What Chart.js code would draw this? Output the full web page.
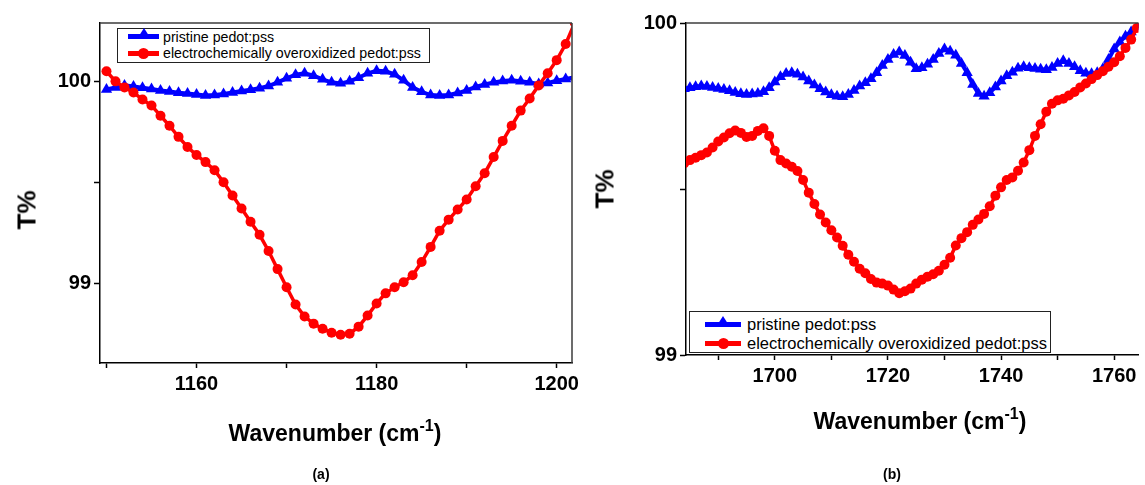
<!DOCTYPE html>
<html>
<head>
  <meta charset="UTF-8">
  <title>FTIR - pedot:pss</title>
  <script src="https://cdn.jsdelivr.net/npm/chart.js"></script>
  <style>
    body { margin: 0; width: 1145px; height: 485px; overflow: hidden; position: relative; background: #fff;
           font-family: "Liberation Sans", Arial, sans-serif; color: #000; }
    .panel { position: absolute; top: 0; height: 485px; }
    .ytitle { position: absolute; font-weight: bold; font-size: 26px; white-space: nowrap;
              transform: translate(-50%, -50%) rotate(-90deg); }
    .xtitle { position: absolute; font-weight: bold; font-size: 23px; white-space: nowrap;
              transform: translate(-50%, -50%); }
    .xtitle sup { font-size: 16px; vertical-align: 10px; line-height: 0; }
    .caption { position: absolute; font-weight: bold; font-size: 14px; transform: translate(-50%, -50%); }
    .legend { position: absolute; border: 1.5px solid #222; background: #fff; box-sizing: border-box; }
    .legend .txt { position: absolute; white-space: nowrap; transform: translateY(-50%); }
    .legend .ln { position: absolute; height: 5px; }
    .legend .tri { position: absolute; width: 0; height: 0; border-left: 7px solid transparent;
                   border-right: 7px solid transparent; border-bottom: 11px solid #0000ff; }
    .legend .dot { position: absolute; width: 11px; height: 11px; border-radius: 50%; background: #ff0000; }
  </style>
  <script>
    // panel (a): 1150 - 1200 cm-1
    var wavenumbersA = [1150, 1151, 1152, 1153, 1154, 1155, 1156, 1157, 1158, 1159,
                        1160, 1161, 1162, 1163, 1164, 1165, 1166, 1167, 1168, 1169,
                        1170, 1171, 1172, 1173, 1174, 1175, 1176, 1177, 1178, 1179,
                        1180, 1181, 1182, 1183, 1184, 1185, 1186, 1187, 1188, 1189,
                        1190, 1191, 1192, 1193, 1194, 1195, 1196, 1197, 1198, 1199,
                        1200, 1201, 1202];
    var pristineA = [99.96, 99.97, 99.98, 99.975, 99.968, 99.962, 99.955, 99.95, 99.944, 99.94,
                     99.935, 99.93, 99.932, 99.937, 99.945, 99.952, 99.958, 99.966, 99.977, 99.995,
                     100.015, 100.033, 100.04, 100.028, 100.01, 99.995, 99.99, 100.0, 100.018, 100.04,
                     100.052, 100.05, 100.035, 100.005, 99.97, 99.948, 99.932, 99.93, 99.933, 99.942,
                     99.955, 99.972, 99.985, 99.995, 100.002, 100.005, 100.0, 99.995, 99.987, 99.992,
                     100.003, 100.012, 100.02];
    var overoxA = [100.05, 100.0, 99.97, 99.945, 99.91, 99.88, 99.83, 99.78, 99.725, 99.675,
                   99.635, 99.6, 99.56, 99.5, 99.435, 99.37, 99.305, 99.24, 99.16, 99.07,
                   98.98, 98.895, 98.835, 98.8, 98.775, 98.755, 98.745, 98.75, 98.785, 98.84,
                   98.9, 98.95, 98.98, 99.005, 99.04, 99.105, 99.18, 99.26, 99.315, 99.365,
                   99.415, 99.48, 99.545, 99.625, 99.705, 99.78, 99.855, 99.915, 99.98, 100.04,
                   100.105, 100.185, 100.29];
    var xTicksA = [1150, 1160, 1170, 1180, 1190, 1200];
    var xLabelsA = [1160, 1180, 1200];
    var yTicksA = [99, 99.5, 100];
    var yLabelsA = [99, 100];

    // panel (b): 1685 - 1765 cm-1
    var wavenumbersB = [1684, 1685, 1686, 1687, 1688, 1689, 1690, 1691, 1692, 1693,
                        1694, 1695, 1696, 1697, 1698, 1699, 1700, 1701, 1702, 1703,
                        1704, 1705, 1706, 1707, 1708, 1709, 1710, 1711, 1712, 1713,
                        1714, 1715, 1716, 1717, 1718, 1719, 1720, 1721, 1722, 1723,
                        1724, 1725, 1726, 1727, 1728, 1729, 1730, 1731, 1732, 1733,
                        1734, 1735, 1736, 1737, 1738, 1739, 1740, 1741, 1742, 1743,
                        1744, 1745, 1746, 1747, 1748, 1749, 1750, 1751, 1752, 1753,
                        1754, 1755, 1756, 1757, 1758, 1759, 1760, 1761, 1762, 1763,
                        1764, 1765];
    var pristineB = [99.802, 99.805, 99.808, 99.81, 99.809, 99.806, 99.803, 99.8, 99.796, 99.791,
                     99.787, 99.785, 99.786, 99.788, 99.793, 99.805, 99.822, 99.838, 99.848, 99.85,
                     99.846, 99.837, 99.825, 99.813, 99.802, 99.792, 99.784, 99.779, 99.778, 99.785,
                     99.797, 99.81, 99.82, 99.832, 99.85, 99.872, 99.89, 99.905, 99.913, 99.902,
                     99.882, 99.862, 99.865, 99.876, 99.89, 99.908, 99.922, 99.915, 99.903, 99.878,
                     99.85, 99.815, 99.788, 99.779, 99.79, 99.807, 99.825, 99.841, 99.852, 99.864,
                     99.868, 99.865, 99.863, 99.861, 99.859, 99.866, 99.878, 99.886, 99.878, 99.868,
                     99.856, 99.849, 99.847, 99.85, 99.862, 99.89, 99.922, 99.943, 99.96, 99.973,
                     99.988, 100.0];
    var overoxB = [99.578, 99.587, 99.594, 99.602, 99.61, 99.625, 99.643, 99.655, 99.668, 99.676,
                   99.669, 99.657, 99.66, 99.675, 99.683, 99.66, 99.615, 99.587, 99.577, 99.567,
                   99.554, 99.527, 99.489, 99.455, 99.423, 99.399, 99.376, 99.354, 99.329, 99.302,
                   99.281, 99.26, 99.246, 99.229, 99.218, 99.215, 99.209, 99.197, 99.186, 99.192,
                   99.2, 99.215, 99.227, 99.236, 99.243, 99.254, 99.272, 99.293, 99.33, 99.352,
                   99.37, 99.392, 99.408, 99.425, 99.448, 99.48, 99.505, 99.527, 99.535, 99.555,
                   99.58, 99.617, 99.66, 99.695, 99.733, 99.757, 99.767, 99.772, 99.782, 99.792,
                   99.806, 99.818, 99.831, 99.843, 99.855, 99.868, 99.882, 99.9, 99.925, 99.95,
                   99.985, 100.01];
    var xTicksB = [1690, 1700, 1710, 1720, 1730, 1740, 1750, 1760];
    var xLabelsB = [1700, 1720, 1740, 1760];
    var yTicksB = [99, 99.5, 100];
    var yLabelsB = [99, 100];

    var tickFont = { family: '"Liberation Sans", Arial, sans-serif', size: 20, weight: 'bold' };

    // top (and optionally right) edge of the plot box
    var frameLines = {
      id: 'frameLines',
      afterDatasetsDraw: function (chart, args, opts) {
        var ctx = chart.ctx, a = chart.chartArea;
        ctx.save();
        ctx.strokeStyle = '#3c3c3c';
        ctx.lineWidth = 1.5;
        ctx.beginPath();
        ctx.moveTo(a.left, a.top);
        ctx.lineTo(a.right, a.top);
        if (opts.right) {
          ctx.moveTo(a.right, a.top);
          ctx.lineTo(a.right, a.bottom);
        }
        ctx.stroke();
        ctx.restore();
      }
    };

    function points(xs, ys) {
      return xs.map(function (x, i) { return { x: x, y: ys[i] }; });
    }

    function buildChart(id, o) {
      return new Chart(document.getElementById(id), {
        type: 'line',
        data: {
          datasets: [{
            label: 'electrochemically overoxidized pedot:pss',
            data: points(o.x, o.red),
            order: 0,
            borderColor: '#ff0000',
            backgroundColor: '#ff0000',
            borderWidth: 3.5,
            pointStyle: 'circle',
            pointRadius: 5,
            pointBorderWidth: 0
          }, {
            label: 'pristine pedot:pss',
            data: points(o.x, o.blue),
            order: 1,
            borderColor: '#0000ff',
            backgroundColor: '#0000ff',
            borderWidth: 4,
            pointStyle: 'triangle',
            pointRadius: 6.5,
            pointBorderWidth: 0
          }]
        },
        options: {
          animation: false,
          responsive: true,
          maintainAspectRatio: false,
          events: [],
          layout: { padding: { top: o.padTop, right: o.padRight, left: 0, bottom: 0 } },
          plugins: {
            legend: { display: false },
            tooltip: { enabled: false },
            frameLines: { right: o.frameRight }
          },
          scales: {
            x: {
              type: 'linear',
              min: o.xMin,
              max: o.xMax,
              afterBuildTicks: function (s) { s.ticks = o.xTicks.map(function (v) { return { value: v }; }); },
              afterFit: function (s) { s.height = o.xAxisH; s.paddingLeft = 0; s.paddingRight = 0; },
              ticks: {
                callback: function (v) { return o.xLabels.indexOf(v) >= 0 ? String(v) : ''; },
                font: tickFont, color: '#000', padding: 4, maxRotation: 0, autoSkip: false
              },
              grid: { drawOnChartArea: false, tickLength: 5, tickColor: '#000', tickWidth: 1.5 },
              border: { color: '#000', width: 1.5 }
            },
            y: {
              min: o.yMin,
              max: o.yMax,
              afterBuildTicks: function (s) { s.ticks = o.yTicks.map(function (v) { return { value: v }; }); },
              afterFit: function (s) { s.width = o.yAxisW; s.paddingTop = 0; s.paddingBottom = 0; },
              ticks: {
                callback: function (v) { return o.yLabels.indexOf(v) >= 0 ? String(v) : ''; },
                font: tickFont, color: '#000', padding: 3
              },
              grid: { drawOnChartArea: false, tickLength: 6, tickColor: '#000', tickWidth: 1.5 },
              border: { color: '#000', width: 1.5 }
            }
          }
        },
        plugins: [frameLines]
      });
    }
  </script>
</head>
<body>
  <div class="panel" style="left:0; width:590px;"><canvas id="chartA"></canvas></div>
  <div class="panel" style="left:580px; width:565px;"><canvas id="chartB"></canvas></div>

  <div class="ytitle" style="left:27px; top:210px;">T%</div>
  <div class="xtitle" style="left:335px; top:433px;">Wavenumber (cm<sup>-1</sup>)</div>
  <div class="caption" style="left:321px; top:474px;">(a)</div>

  <div class="ytitle" style="left:605px; top:189px;">T%</div>
  <div class="xtitle" style="left:920px; top:421px;">Wavenumber (cm<sup>-1</sup>)</div>
  <div class="caption" style="left:892px; top:474px;">(b)</div>

  <div class="legend" style="left:117px; top:28px; width:313px; height:35px; font-size:14.2px;">
    <div class="ln" style="left:10px; top:5px; width:31px; background:#0000ff;"></div>
    <div class="tri" style="left:18.5px; top:-1px;"></div>
    <div class="txt" style="left:45px; top:7.5px;">pristine pedot:pss</div>
    <div class="ln" style="left:10px; top:21.5px; width:31px; background:#ff0000;"></div>
    <div class="dot" style="left:20px; top:18.5px;"></div>
    <div class="txt" style="left:45px; top:24px;">electrochemically overoxidized pedot:pss</div>
  </div>

  <div class="legend" style="left:689px; top:311px; width:362px; height:42px; font-size:16.5px;">
    <div class="ln" style="left:15px; top:9.5px; width:36px; background:#0000ff;"></div>
    <div class="tri" style="left:26px; top:4px;"></div>
    <div class="txt" style="left:57px; top:12px;">pristine pedot:pss</div>
    <div class="ln" style="left:15px; top:28.5px; width:36px; background:#ff0000;"></div>
    <div class="dot" style="left:27.5px; top:25.5px;"></div>
    <div class="txt" style="left:57px; top:31px;">electrochemically overoxidized pedot:pss</div>
  </div>

  <script>
    buildChart('chartA', {
      x: wavenumbersA, blue: pristineA, red: overoxA,
      xMin: 1149.28, xMax: 1201.7, yMin: 98.605, yMax: 100.289,
      xTicks: xTicksA, xLabels: xLabelsA, yTicks: yTicksA, yLabels: yLabelsA,
      padTop: 23, padRight: 18, yAxisW: 100, xAxisH: 122, frameRight: true
    });
    buildChart('chartB', {
      x: wavenumbersB, blue: pristineB, red: overoxB,
      xMin: 1684.3, xMax: 1764.3, yMin: 99, yMax: 100,
      xTicks: xTicksB, xLabels: xLabelsB, yTicks: yTicksB, yLabels: yLabelsB,
      padTop: 23, padRight: 0, yAxisW: 106, xAxisH: 130, frameRight: false
    });
  </script>
</body>
</html>
